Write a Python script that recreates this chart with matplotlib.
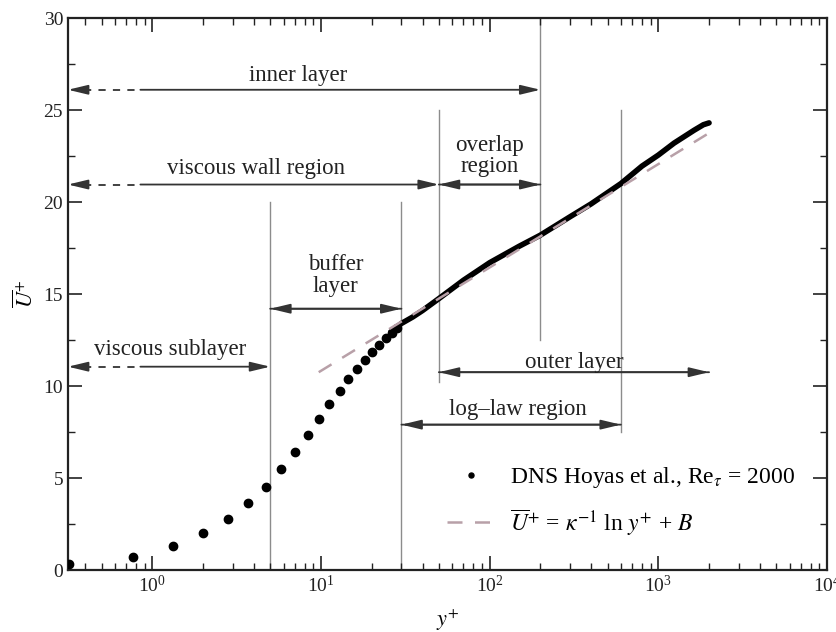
import numpy as np
import matplotlib
matplotlib.use("Agg")
import matplotlib.pyplot as plt
from matplotlib.ticker import LogLocator, MultipleLocator, NullFormatter

plt.rcParams['font.family'] = 'serif'
plt.rcParams['font.serif'] = ['Liberation Serif', 'DejaVu Serif']
plt.rcParams['mathtext.fontset'] = 'stix'

# DNS points (sparse near-wall part)
dns_yplus = [0.32, 0.77, 1.33, 2.0, 2.81, 3.70, 4.73, 5.83, 7.0, 8.36, 9.71,
             11.2, 12.9, 14.5, 16.3, 18.2, 20.1, 22.0, 24.4, 26.4, 28.3]
dns_uplus = [0.3, 0.72, 1.30, 1.99, 2.75, 3.62, 4.53, 5.49, 6.43, 7.34, 8.21,
             9.02, 9.73, 10.36, 10.92, 11.40, 11.83, 12.21, 12.59, 12.9, 13.15]

# dense DNS part (drawn as thick curve)
dense_yplus = [26, 30, 35, 40, 50, 70, 100, 150, 200, 300, 400, 600, 800,
               1000, 1240, 1630, 1850, 2000]
dense_uplus = [12.95, 13.4, 13.75, 14.1, 14.75, 15.75, 16.7, 17.6, 18.2, 19.2,
               19.9, 21.0, 21.95, 22.55, 23.2, 23.9, 24.2, 24.3]

# log law end points
loglaw_yplus = [9.7, 2000]
loglaw_uplus = [10.75, 23.75]

# region boundaries: (y+, U bottom, U top)
boundaries = [(5, 0, 20), (30, 0, 20), (50, 10.2, 25), (200, 12.5, 30), (600, 7.5, 25)]

# arrows: (x start, x end, U, dashed part end or None)
XMIN = 10 ** -0.5
arrows = [(XMIN, 200, 26.1, 0.85), (XMIN, 50, 20.95, 0.85), (50, 200, 20.95, None),
          (5, 30, 14.2, None), (XMIN, 5, 11.05, 0.85), (50, 2000, 10.75, None),
          (30, 600, 7.9, None)]
labels = [("inner layer", 7.3, 26.9), ("viscous wall region", 4.1, 21.8),
          ("overlap\nregion", 100, 22.5), ("buffer\nlayer", 12.2, 16.0),
          ("viscous sublayer", 1.28, 12.0), ("outer layer", 316, 11.3),
          ("log\u2013law region", 147, 8.75)]

fig = plt.figure(figsize=(8.37, 6.32), dpi=100)
ax = fig.add_axes([0.0812, 0.0981, 0.9068, 0.8734])

for x, y0, y1 in boundaries:
    ax.plot([x, x], [y0, y1], color='#8c8c8c', lw=1.0, zorder=1)

arrow_kw = dict(arrowstyle='-|>,head_length=1.0,head_width=0.24', color='#333333',
                lw=1.3, shrinkA=0, shrinkB=0, mutation_scale=12)
for x0, x1, y, dash_end in arrows:
    if dash_end is None:
        ax.annotate('', xy=(x1, y), xytext=(x0, y), arrowprops=arrow_kw)
        ax.annotate('', xy=(x0, y), xytext=(x1, y), arrowprops=arrow_kw)
    else:
        ax.annotate('', xy=(x1, y), xytext=(dash_end, y), arrowprops=arrow_kw)
        ax.plot([x0 * 1.25, dash_end], [y, y], color='#333333', lw=1.3,
                dashes=(4, 4), zorder=2)
        ax.annotate('', xy=(x0, y), xytext=(x0 * 1.3, y), arrowprops=arrow_kw)

for txt, x, y in labels:
    ax.text(x, y, txt, ha='center', va='center', fontsize=16.5, color='#222222',
            linespacing=1.05)

ax.plot(dense_yplus, dense_uplus, color='black', lw=4.0, solid_capstyle='round', zorder=3)
ax.plot(dns_yplus, dns_uplus, 'o', color='black', ms=6, zorder=3,
        label=r'DNS Hoyas et al., Re$_\tau$ = 2000')
ax.plot(loglaw_yplus, loglaw_uplus, color='#b8a0a8', lw=1.8, dashes=(6, 5), zorder=4,
        label=r'$\overline{U}^{+}$ = $\kappa^{-1}$ ln $y^{+}$ + $B$')

ax.set_xscale('log')
ax.set_xlim(XMIN, 1e4)
ax.set_ylim(0, 30)
ax.xaxis.set_major_locator(LogLocator(base=10, numticks=10))
ax.xaxis.set_minor_locator(LogLocator(base=10, subs=np.arange(2, 10), numticks=20))
ax.xaxis.set_minor_formatter(NullFormatter())
ax.yaxis.set_major_locator(MultipleLocator(5))
ax.yaxis.set_minor_locator(MultipleLocator(2.5))
ax.tick_params(which='both', direction='in', top=True, right=True, labelsize=14,
               colors='#222222')
ax.tick_params(which='major', length=10, width=1.2)
ax.tick_params(which='minor', length=5, width=1.0)
for s in ax.spines.values():
    s.set_linewidth(1.6)
    s.set_color('#222222')

ax.set_xlabel(r'$y^{+}$', fontsize=16, labelpad=8)
ax.set_ylabel(r'$\overline{U}^{+}$', fontsize=16, labelpad=4)

leg = ax.legend(loc='lower left', bbox_to_anchor=(0.472, 0.02), frameon=False,
                fontsize=17, handlelength=2.0, handletextpad=0.65, labelspacing=0.7,
                markerscale=0.6)

fig.savefig('out.png', dpi=100, facecolor='white')
